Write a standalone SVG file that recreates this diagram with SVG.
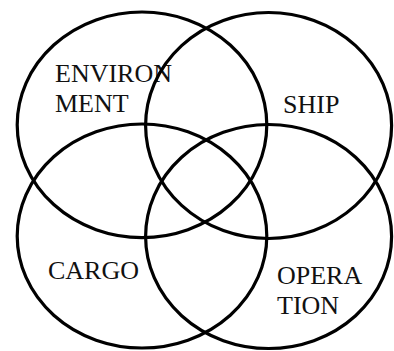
<svg xmlns="http://www.w3.org/2000/svg" width="394" height="351" viewBox="0 0 394 351">
<style>
.c{fill:none;stroke:#000;stroke-width:3.2}
.t{font-family:"Liberation Serif","Times New Roman",serif;font-size:26px;fill:#111}
</style>
<rect width="394" height="351" fill="#fff"/>
<g id="environment"><ellipse class="c" cx="142" cy="124.8" rx="124.8" ry="112.8"/><text class="t" x="55" y="82">ENVIRON</text><text class="t" x="55" y="112">MENT</text></g>
<g id="ship"><ellipse class="c" cx="268.6" cy="125.5" rx="123" ry="113"/><text class="t" x="283" y="113">SHIP</text></g>
<g id="cargo"><ellipse class="c" cx="142" cy="236" rx="124.8" ry="112"/><text class="t" x="48" y="279">CARGO</text></g>
<g id="operation"><ellipse class="c" cx="268.6" cy="236.5" rx="123" ry="112"/><text class="t" x="277" y="284">OPERA</text><text class="t" x="277" y="314">TION</text></g>
</svg>
